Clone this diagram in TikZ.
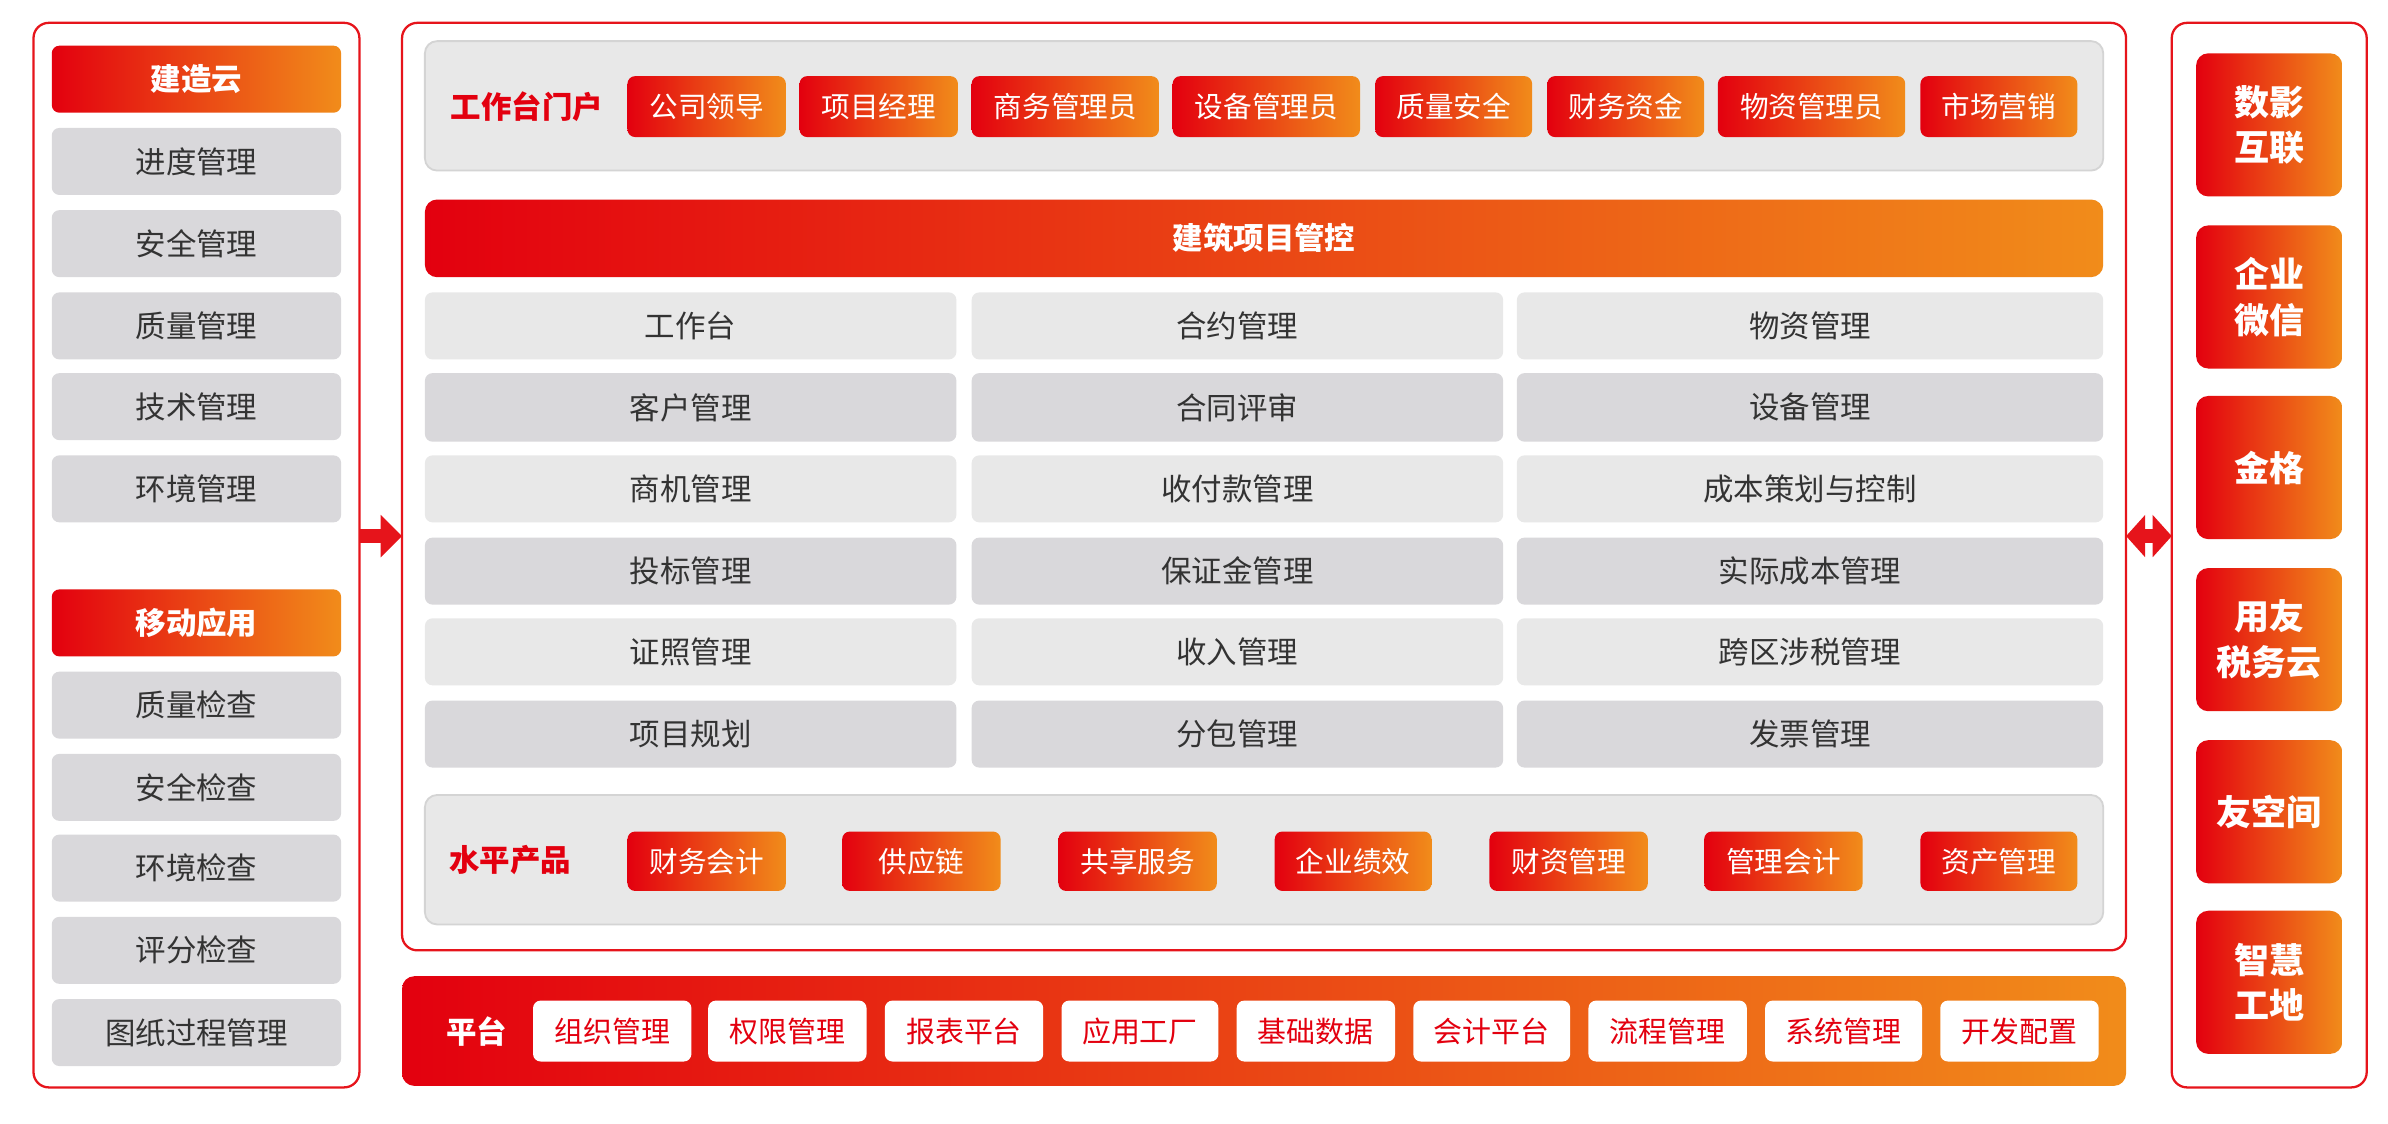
\documentclass[tikz,border=0pt]{standalone}
\usepackage{fontspec}
\setmainfont{Noto Sans CJK SC}
\usetikzlibrary{arrows.meta}
\definecolor{cred}{HTML}{E3000F}
\definecolor{corg}{HTML}{F18C1A}
\definecolor{bred}{HTML}{E6141B}
\definecolor{gl}{HTML}{E8E8E8}
\definecolor{gd}{HTML}{D9D8DB}
\definecolor{gb}{HTML}{D4D4D4}
\definecolor{txt}{HTML}{333333}
\newcommand\bx[7]{\node[#2, minimum width={(#5-#3)*1pt}, minimum height={(#6-#4)*1pt}] (#1) at ({(#3+#5)/2},{(#4+#6)/2}) {#7};}
\tikzset{
  base/.style={inner sep=0pt, outer sep=0pt},
  panel/.style={base, draw=bred, line width=1.5pt, rounded corners=10pt, fill=white},
  gpanel/.style={base, draw=gb, line width=1.2pt, fill=gl, rounded corners=8pt},
  grad/.style={base, left color=cred, right color=corg, text=white},
  hdr/.style={grad, rounded corners=5pt, font=\bfseries\fontsize{20}{24}\selectfont},
  bar/.style={grad, rounded corners=8pt, font=\bfseries\fontsize{20}{24}\selectfont},
  btn/.style={grad, rounded corners=5pt, font=\fontsize{18.8}{22}\selectfont},
  wbtn/.style={base, fill=white, text=cred, rounded corners=5pt, font=\fontsize{19}{22}\selectfont},
  gitem/.style={base, fill=gd, rounded corners=5pt, text=txt, font=\fontsize{20}{24}\selectfont},
  gitemL/.style={gitem, fill=gl},
  lbl/.style={base, text=cred, font=\bfseries\fontsize{20}{24}\selectfont},
  wlbl/.style={base, text=white, font=\bfseries\fontsize{20}{24}\selectfont},
  ritem/.style={grad, rounded corners=8pt, align=center, font=\bfseries\fontsize{23}{30}\selectfont},
  arr/.style={draw=bred, line width=9pt, -{Triangle[length=14pt,width=27pt]}},
  darr/.style={draw=bred, line width=9pt, {Triangle[length=12.5pt,width=27pt]}-{Triangle[length=12.5pt,width=27pt]}},
}
\begin{document}
\begin{tikzpicture}[x=1pt,y=-1pt]
\useasboundingbox (0,0) rectangle (1568,738);
% panels
\bx{L}{panel}{22}{15}{236}{714}{}
\bx{C}{panel}{264}{15}{1396}{624}{}
\bx{R}{panel}{1426}{15}{1554}{714}{}
% left
\bx{lh1}{hdr}{34}{30}{224}{74}{建造云}
\bx{l1}{gitem}{34}{84}{224}{128}{进度管理}
\bx{l2}{gitem}{34}{138}{224}{182}{安全管理}
\bx{l3}{gitem}{34}{192}{224}{236}{质量管理}
\bx{l4}{gitem}{34}{245}{224}{289}{技术管理}
\bx{l5}{gitem}{34}{299}{224}{343}{环境管理}
\bx{lh2}{hdr}{34}{387}{224}{431}{移动应用}
\bx{l6}{gitem}{34}{441}{224}{485}{质量检查}
\bx{l7}{gitem}{34}{495}{224}{539}{安全检查}
\bx{l8}{gitem}{34}{548}{224}{592}{环境检查}
\bx{l9}{gitem}{34}{602}{224}{646}{评分检查}
\bx{l10}{gitem}{34}{656}{224}{700}{图纸过程管理}
% portal
\bx{P}{gpanel}{279}{27}{1381}{112}{}
\node[lbl] (pl) at (346,70) {工作台门户};
\bx{p1}{btn}{412}{50}{516}{90}{公司领导}
\bx{p2}{btn}{525}{50}{629}{90}{项目经理}
\bx{p3}{btn}{638}{50}{761}{90}{商务管理员}
\bx{p4}{btn}{770}{50}{893}{90}{设备管理员}
\bx{p5}{btn}{903}{50}{1006}{90}{质量安全}
\bx{p6}{btn}{1016}{50}{1119}{90}{财务资金}
\bx{p7}{btn}{1128}{50}{1251}{90}{物资管理员}
\bx{p8}{btn}{1261}{50}{1364}{90}{市场营销}
% bar
\bx{B}{bar}{279}{131}{1381}{182}{建筑项目管控}
% grid
\bx{g11}{gitemL}{279}{192}{628}{236}{工作台}
\bx{g12}{gitemL}{638}{192}{987}{236}{合约管理}
\bx{g13}{gitemL}{996}{192}{1381}{236}{物资管理}
\bx{g21}{gitem}{279}{245}{628}{290}{客户管理}
\bx{g22}{gitem}{638}{245}{987}{290}{合同评审}
\bx{g23}{gitem}{996}{245}{1381}{290}{设备管理}
\bx{g31}{gitemL}{279}{299}{628}{343}{商机管理}
\bx{g32}{gitemL}{638}{299}{987}{343}{收付款管理}
\bx{g33}{gitemL}{996}{299}{1381}{343}{成本策划与控制}
\bx{g41}{gitem}{279}{353}{628}{397}{投标管理}
\bx{g42}{gitem}{638}{353}{987}{397}{保证金管理}
\bx{g43}{gitem}{996}{353}{1381}{397}{实际成本管理}
\bx{g51}{gitemL}{279}{406}{628}{450}{证照管理}
\bx{g52}{gitemL}{638}{406}{987}{450}{收入管理}
\bx{g53}{gitemL}{996}{406}{1381}{450}{跨区涉税管理}
\bx{g61}{gitem}{279}{460}{628}{504}{项目规划}
\bx{g62}{gitem}{638}{460}{987}{504}{分包管理}
\bx{g63}{gitem}{996}{460}{1381}{504}{发票管理}
% horizontal products
\bx{H}{gpanel}{279}{522}{1381}{607}{}
\node[lbl] (hl) at (335,565) {水平产品};
\bx{h1}{btn}{412}{546}{516}{585}{财务会计}
\bx{h2}{btn}{553}{546}{657}{585}{供应链}
\bx{h3}{btn}{695}{546}{799}{585}{共享服务}
\bx{h4}{btn}{837}{546}{940}{585}{企业绩效}
\bx{h5}{btn}{978}{546}{1082}{585}{财资管理}
\bx{h6}{btn}{1119}{546}{1223}{585}{管理会计}
\bx{h7}{btn}{1261}{546}{1364}{585}{资产管理}
% platform
\bx{PF}{bar}{264}{641}{1396}{713}{}
\node[wlbl] (pfl) at (313,677) {平台};
\bx{f1}{wbtn}{350}{657}{454}{697}{组织管理}
\bx{f2}{wbtn}{465}{657}{569}{697}{权限管理}
\bx{f3}{wbtn}{581}{657}{685}{697}{报表平台}
\bx{f4}{wbtn}{697}{657}{800}{697}{应用工厂}
\bx{f5}{wbtn}{812}{657}{916}{697}{基础数据}
\bx{f6}{wbtn}{928}{657}{1031}{697}{会计平台}
\bx{f7}{wbtn}{1043}{657}{1147}{697}{流程管理}
\bx{f8}{wbtn}{1159}{657}{1262}{697}{系统管理}
\bx{f9}{wbtn}{1274}{657}{1378}{697}{开发配置}
% right
\bx{r1}{ritem}{1442}{35}{1538}{129}{数影\\互联}
\bx{r2}{ritem}{1442}{148}{1538}{242}{企业\\微信}
\bx{r3}{ritem}{1442}{260}{1538}{354}{金格}
\bx{r4}{ritem}{1442}{373}{1538}{467}{用友\\税务云}
\bx{r5}{ritem}{1442}{486}{1538}{580}{友空间}
\bx{r6}{ritem}{1442}{598}{1538}{692}{智慧\\工地}
% arrows
\coordinate (ay) at (0,352);
\draw[arr] (L.east |- ay) -- (C.west |- ay);
\draw[darr] (C.east |- ay) -- (R.west |- ay);
\end{tikzpicture}
\end{document}
